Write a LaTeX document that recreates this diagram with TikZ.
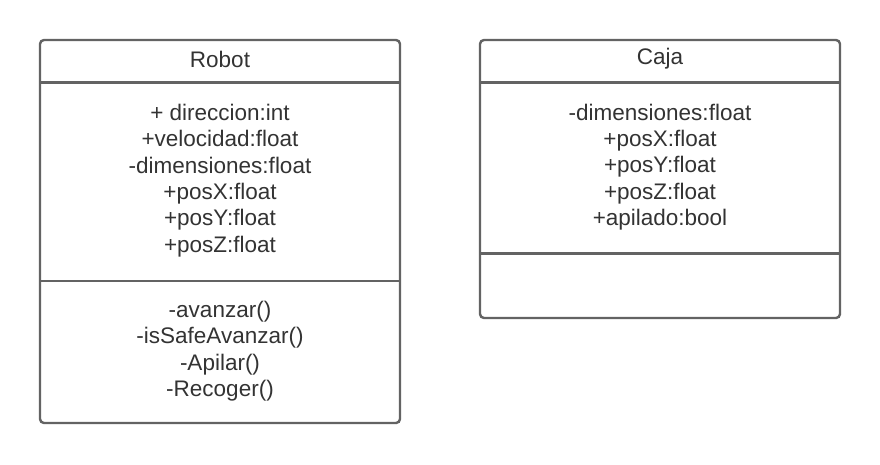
\documentclass[tikz,border=0pt]{standalone}
\usepackage{fontspec}
\setmainfont{Liberation Sans}
\definecolor{boxline}{HTML}{636363}
\definecolor{txt}{HTML}{333333}
\tikzset{
  classbox/.style={draw=boxline, line width=2.4pt, rounded corners=4pt, fill=white},
  divider/.style={draw=boxline, line width=2.4pt},
  label/.style={text=txt, font=\fontsize{22.5}{26.4}\selectfont, align=center, inner sep=0pt, anchor=center},
}
\begin{document}
\begin{tikzpicture}[x=1pt,y=-1pt]
\useasboundingbox (0,0) rectangle (880,464);
% Robot
\coordinate (r1) at (40,40);
\coordinate (r2) at (400,423);
\draw[classbox] (r1) rectangle (r2);
\coordinate (rd1a) at (40,82.5);
\coordinate (rd1b) at (400,82.5);
\coordinate (rd2a) at (40,281);
\coordinate (rd2b) at (400,281);
\draw[divider] (rd1a) -- (rd1b);
\draw[divider] (rd2a) -- (rd2b);
\node[label] (robotname) at (220,59) {Robot};
\node[label] (robotattr) at (220,180.5) {+ direccion:int\\+velocidad:float\\-dimensiones:float\\+posX:float\\+posY:float\\+posZ:float};
\node[label] (robotops) at (220,351) {-avanzar()\\-isSafeAvanzar()\\-Apilar()\\-Recoger()};
% Caja
\coordinate (c1) at (480,40);
\coordinate (c2) at (840,318);
\draw[classbox] (c1) rectangle (c2);
\coordinate (cd1a) at (480,82.5);
\coordinate (cd1b) at (840,82.5);
\coordinate (cd2a) at (480,253.5);
\coordinate (cd2b) at (840,253.5);
\draw[divider] (cd1a) -- (cd1b);
\draw[divider] (cd2a) -- (cd2b);
\node[label] (cajaname) at (660,59) {Caja};
\node[label] (cajaattr) at (660,167) {-dimensiones:float\\+posX:float\\+posY:float\\+posZ:float\\+apilado:bool};
\end{tikzpicture}
\end{document}
